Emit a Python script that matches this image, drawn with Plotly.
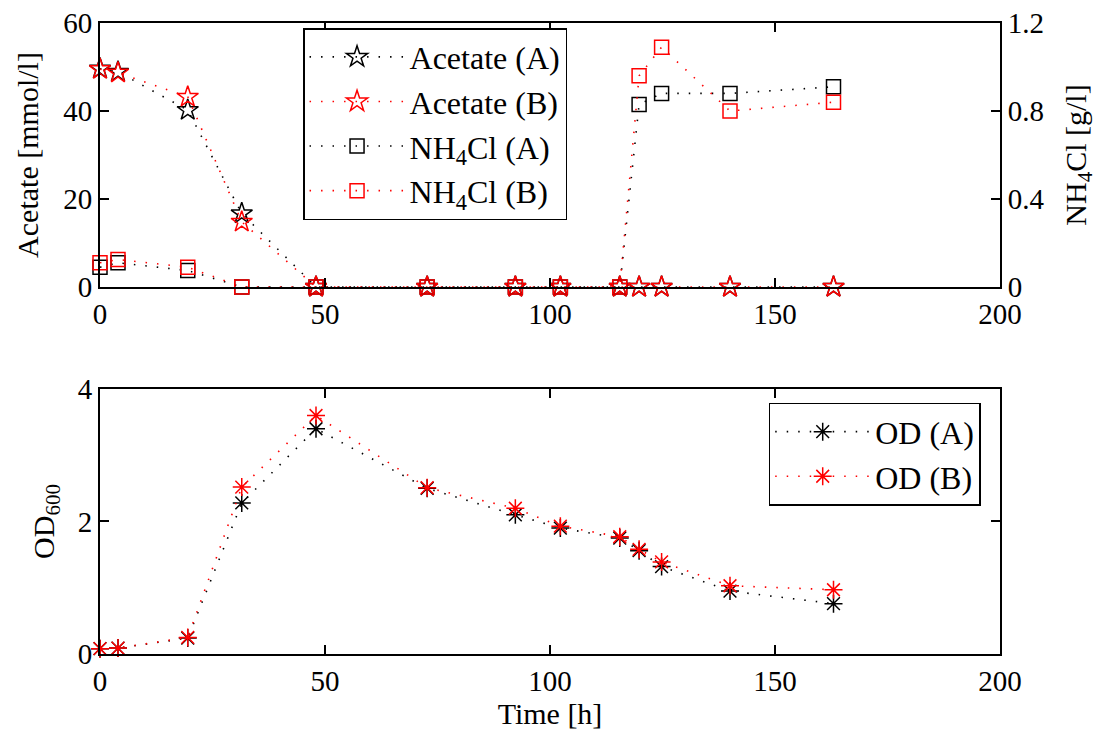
import plotly.graph_objects as go

# ---- data ----
time_h = [0, 4, 19.5, 31.5, 48, 72.7, 92.3, 102.3, 115.5, 119.8, 124.8, 140, 163]
acetate_a = [49.6, 48.9, 40.2, 16.7, 0, 0, 0, 0, 0, 0, 0, 0, 0]
acetate_b = [49.5, 48.7, 43.2, 14.8, 0, 0, 0, 0, 0, 0, 0, 0, 0]
nh4cl_a = [0.09, 0.11, 0.075, 0, 0, 0, 0, 0, 0, 0.83, 0.88, 0.88, 0.91]
nh4cl_b = [0.11, 0.125, 0.09, 0, 0, 0, 0, 0, 0, 0.96, 1.09, 0.80, 0.84]
od_a = [0.08, 0.09, 0.24, 2.28, 3.4, 2.5, 2.1, 1.9, 1.75, 1.56, 1.32, 0.95, 0.76]
od_b = [0.08, 0.09, 0.25, 2.52, 3.6, 2.51, 2.2, 1.93, 1.77, 1.58, 1.39, 1.03, 0.97]

x_ticks = [0, 50, 100, 150, 200]
acetate_ticks = [0, 20, 40, 60]
nh4cl_ticks = [0, 0.4, 0.8, 1.2]
nh4cl_labels = ["0", "0.4", "0.8", "1.2"]
od_ticks = [0, 2, 4]

FONT = "Liberation Serif"
BLACK = "#000000"
RED = "#ff0000"
DASH = "1.5px,10px"

fig = go.Figure()

def add(x, y, name, color, symbol, size, xaxis, yaxis, legend, group):
    fig.add_trace(go.Scatter(
        x=x, y=y, name=name, mode="lines+markers",
        line=dict(color=color, width=1.6, dash=DASH),
        marker=dict(symbol=symbol, size=size, color=color,
                    line=dict(color=color, width=1.5)),
        xaxis=xaxis, yaxis=yaxis, legend=legend, legendgroup=group,
        cliponaxis=False,
    ))

add(time_h, acetate_a, "Acetate (A)", BLACK, "star-open", 16, "x", "y", "legend", "g1")
add(time_h, acetate_b, "Acetate (B)", RED, "star-open", 16, "x", "y", "legend", "g2")
add(time_h, nh4cl_a, "NH<sub>4</sub>Cl (A)", BLACK, "square-open", 14, "x", "y2", "legend", "g3")
add(time_h, nh4cl_b, "NH<sub>4</sub>Cl (B)", RED, "square-open", 14, "x", "y2", "legend", "g4")
add(time_h, od_a, "OD (A)", BLACK, "asterisk-open", 15, "x2", "y3", "legend2", "g5")
add(time_h, od_b, "OD (B)", RED, "asterisk-open", 15, "x2", "y3", "legend2", "g6")

axis_common = dict(
    showline=True, linecolor=BLACK, linewidth=2,
    ticks="inside", ticklen=9, tickwidth=1.5, tickcolor=BLACK,
    showgrid=False, zeroline=False, tickmode="array", automargin=False,
    tickfont=dict(family=FONT, size=29, color=BLACK),
)

top_dom = [0.5816, 1.0]
bot_dom = [0.0, 0.42]
TITLE_FONT = dict(family=FONT, size=30, color=BLACK)

fig.update_layout(
    width=1097, height=735,
    margin=dict(l=100, r=97, t=23, b=81),
    paper_bgcolor="white", plot_bgcolor="white",
    font=dict(family=FONT, size=29, color=BLACK),
    xaxis=dict(domain=[0, 1], anchor="y", range=[0, 200], tickvals=x_ticks,
               mirror="ticks", **axis_common),
    yaxis=dict(domain=top_dom, anchor="x", range=[0, 60], tickvals=acetate_ticks,
               title=dict(text="Acetate [mmol/l]", font=TITLE_FONT, standoff=16),
               **axis_common),
    yaxis2=dict(domain=top_dom, anchor="x", overlaying="y", side="right", range=[0, 1.2],
                tickvals=nh4cl_ticks, ticktext=nh4cl_labels,
                title=dict(text="NH<sub>4</sub>Cl [g/l]", font=TITLE_FONT, standoff=24),
                **axis_common),
    xaxis2=dict(domain=[0, 1], anchor="y3", range=[0, 200], tickvals=x_ticks,
                mirror="ticks",
                title=dict(text="Time [h]", font=TITLE_FONT, standoff=6),
                **axis_common),
    yaxis3=dict(domain=bot_dom, anchor="x2", range=[0, 4], tickvals=od_ticks,
                mirror="ticks",
                title=dict(text="OD<sub>600</sub>", font=TITLE_FONT, standoff=14),
                **axis_common),
    legend=dict(x=0.2256, y=0.992, xanchor="left", yanchor="top",
                bordercolor=BLACK, borderwidth=1.5, bgcolor="white",
                font=dict(family=FONT, size=32, color=BLACK),
                itemwidth=95, tracegroupgap=0),
    legend2=dict(x=0.743, y=0.398, xanchor="left", yanchor="top",
                 bordercolor=BLACK, borderwidth=1.5, bgcolor="white",
                 font=dict(family=FONT, size=32, color=BLACK),
                 itemwidth=95, tracegroupgap=0),
    showlegend=True,
)

fig.write_html("out.html")
